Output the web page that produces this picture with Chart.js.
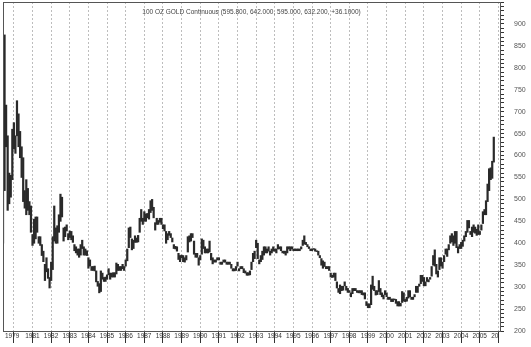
<!DOCTYPE html>
<html>
<head>
<meta charset="utf-8">
<script src="https://cdn.jsdelivr.net/npm/chart.js@4"></script>
<style>
  html, body { margin: 0; padding: 0; background: #fff; }
  #wrap { width: 531px; height: 347px; }
</style>
</head>
<body>
<div id="wrap"><canvas id="goldChart"></canvas></div>
<script>
// monthly categories: Dec 1979 .. Aug 2006
const months = [];
for (let y = 1979, m = 12; y < 2006 || m <= 8; ) {
    months.push(y + "-" + String(m).padStart(2, "0"));
    m++;
    if (m > 12) { m = 1; y++; }
}

const chartTitle = "100 OZ GOLD Continuous (595.800, 642.000, 595.000, 632.200, +36.1000)";
const yTicks = [200, 250, 300, 350, 400, 450, 500, 550, 600, 650, 700, 750, 800, 850, 900];

// monthly low / high, one row per year (Dec 1979 first)
const lows = [
    400,
    520, 620, 475, 490, 505, 545, 615, 605, 645, 620, 595, 550,
    495, 480, 465, 475, 465, 425, 395, 400, 410, 425, 400, 395,
    372, 358, 315, 335, 320, 298, 315, 340, 405, 400, 400, 425,
    450, 460, 405, 415, 428, 408, 413, 408, 402, 383, 378, 373,
    368, 373, 388, 373, 373, 372, 343, 348, 338, 338, 337, 312,
    302, 287, 290, 318, 313, 313, 318, 328, 318, 323, 323, 323,
    330, 338, 338, 338, 342, 338, 348, 360, 390, 413, 385, 388,
    402, 402, 403, 425, 450, 443, 450, 450, 458, 455, 470, 475,
    458, 430, 443, 443, 448, 443, 433, 428, 400, 408, 418, 413,
    403, 388, 387, 382, 363, 358, 367, 358, 357, 362, 380, 403,
    405, 413, 375, 368, 368, 350, 362, 375, 388, 378, 378, 378,
    380, 362, 353, 357, 357, 362, 362, 352, 352, 357, 357, 352,
    352, 352, 343, 337, 337, 338, 348, 337, 342, 342, 333, 332,
    327, 327, 328, 340, 358, 365, 390, 365, 353, 358, 363, 373,
    378, 378, 382, 373, 378, 382, 382, 378, 387, 387, 383, 378,
    377, 373, 378, 387, 383, 387, 383, 383, 383, 383, 383, 387,
    395, 398, 397, 392, 388, 383, 383, 386, 382, 381, 373, 367,
    350, 343, 347, 342, 342, 338, 323, 322, 323, 315, 298, 288,
    285, 292, 293, 303, 293, 288, 288, 278, 285, 292, 292, 288,
    287, 287, 283, 282, 273, 258, 253, 253, 260, 295, 292, 282,
    283, 290, 283, 278, 273, 283, 278, 272, 272, 267, 267, 271,
    263, 257, 257, 257, 265, 268, 267, 268, 275, 278, 272, 272,
    278, 288, 288, 302, 308, 313, 303, 303, 313, 312, 318, 325,
    350, 348, 330, 323, 340, 348, 343, 358, 375, 370, 385, 400,
    403, 395, 400, 390, 378, 388, 388, 393, 405, 415, 425, 435,
    420, 415, 425, 423, 418, 420, 420, 430, 445, 465, 465, 495,
    520, 545, 548, 585
];
const highs = [
    525,
    875, 715, 645, 560, 555, 660, 675, 645, 725, 695, 655, 620,
    595, 520, 545, 525, 495, 485, 420, 455, 460, 460, 415, 415,
    397, 382, 352, 367, 342, 322, 357, 415, 485, 435, 440, 465,
    512, 505, 435, 437, 442, 422, 428, 427, 417, 397, 392, 387,
    387, 397, 407, 392, 387, 383, 367, 362, 347, 347, 348, 337,
    313, 308, 337, 332, 322, 323, 328, 342, 332, 332, 333, 333,
    355, 352, 347, 347, 352, 347, 362, 387, 435, 437, 410, 407,
    417, 412, 418, 457, 477, 457, 472, 467, 468, 477, 497, 500,
    482, 447, 457, 452, 457, 457, 442, 442, 427, 422, 427, 422,
    412, 397, 393, 392, 377, 372, 373, 372, 367, 372, 415, 417,
    422, 422, 405, 377, 377, 367, 372, 410, 407, 392, 387, 387,
    405, 377, 367, 362, 362, 367, 367, 357, 357, 362, 362, 357,
    357, 357, 352, 342, 342, 347, 357, 342, 347, 347, 342, 337,
    333, 333, 337, 357, 377, 382, 407, 400, 362, 372, 382, 392,
    392, 387, 392, 382, 387, 392, 387, 387, 397, 392, 392, 382,
    382, 382, 392, 392, 392, 392, 387, 387, 387, 387, 387, 392,
    407, 417, 402, 397, 392, 387, 387, 388, 387, 383, 382, 372,
    365, 360, 357, 347, 347, 347, 332, 327, 332, 332, 312, 297,
    305, 302, 302, 312, 302, 297, 292, 287, 297, 297, 297, 292,
    292, 292, 292, 287, 287, 267, 262, 262, 305, 325, 302, 292,
    292, 315, 297, 287, 282, 292, 287, 277, 277, 273, 273, 273,
    272, 267, 267, 263, 290, 287, 272, 277, 292, 292, 277, 277,
    283, 302, 302, 307, 327, 327, 322, 312, 322, 317, 322, 347,
    372, 385, 352, 337, 367, 367, 357, 372, 387, 387, 397, 417,
    422, 417, 427, 427, 392, 397, 402, 407, 417, 427, 452, 452,
    427, 437, 442, 437, 432, 442, 427, 442, 472, 477, 497, 535,
    570, 572, 587, 642
];

const bars = lows.map((lo, i) => [lo, highs[i]]);

const framePlugin = {
    id: "frame",
    afterDraw(chart) {
        const { ctx, chartArea: a } = chart;
        ctx.save();
        ctx.strokeStyle = "#555";
        ctx.lineWidth = 1;
        ctx.strokeRect(a.left + 0.5, a.top + 0.5, a.right - a.left, a.bottom - a.top);
        ctx.fillStyle = "#444";
        ctx.font = "6.5px 'Liberation Sans', Arial, sans-serif";
        ctx.textAlign = "center";
        ctx.textBaseline = "top";
        ctx.fillText(chartTitle, (a.left + a.right) / 2, a.top + 7);
        ctx.restore();
    }
};

document.addEventListener("DOMContentLoaded", () => {
    const ctx = document.getElementById("goldChart").getContext("2d");

    new Chart(ctx, {
        type: "bar",
        data: {
            labels: months,
            datasets: [{
                label: "100 OZ GOLD",
                data: bars,
                backgroundColor: "#2a2a2a",
                borderWidth: 0,
                barPercentage: 1,
                categoryPercentage: 1
            }]
        },
        options: {
            responsive: true,
            maintainAspectRatio: false,
            animation: false,
            layout: { padding: { left: 3, top: 2, right: 0, bottom: 0 } },
            plugins: {
                legend: { display: false },
                tooltip: { enabled: false }
            },
            scales: {
                x: {
                    offset: false,
                    afterBuildTicks: (axis) => {
                        axis.ticks = axis.ticks.filter(t =>
                            t.value === 0 || (t.value > 1 && months[t.value].endsWith("-01")));
                    },
                    afterFit: (scale) => {
                        scale.height = 16;
                        scale.paddingLeft = 0;
                        scale.paddingRight = 0;
                    },
                    ticks: {
                        autoSkip: false,
                        maxRotation: 0,
                        align: "start",
                        labelOffset: 2,
                        padding: -11,
                        color: "#333",
                        font: { family: "'Liberation Sans', Arial", size: 6.5 },
                        callback: (v) => {
                            const yr = months[v].slice(0, 4);
                            return yr === "2006" ? "20" : yr;
                        }
                    },
                    grid: {
                        color: "#bdbdbd",
                        tickColor: "#333",
                        tickLength: 12,
                        lineWidth: 1
                    },
                    border: { color: "#333", width: 1, dash: [2, 2] }
                },
                y: {
                    position: "right",
                    min: 200,
                    max: 950,
                    afterFit: (scale) => {
                        scale.width = 31;
                        scale.paddingTop = 0;
                        scale.paddingBottom = 0;
                    },
                    ticks: {
                        stepSize: 10,
                        autoSkip: false,
                        padding: 10,
                        color: "#555",
                        font: { family: "'Liberation Sans', Arial", size: 7 },
                        callback: (v) => yTicks.includes(v) ? String(v) : ""
                    },
                    grid: {
                        drawOnChartArea: false,
                        tickColor: "#333",
                        tickLength: 4
                    },
                    border: { color: "#333", width: 1 }
                }
            }
        },
        plugins: [framePlugin]
    });
});
</script>
</body>
</html>
